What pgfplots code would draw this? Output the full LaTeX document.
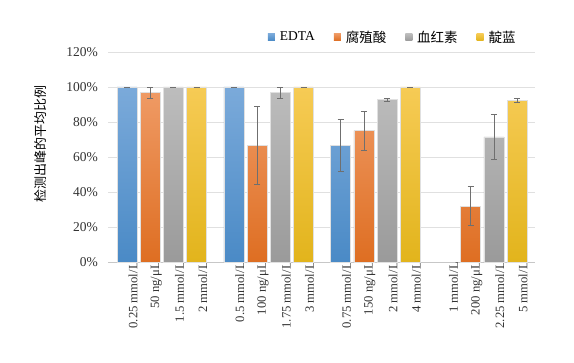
\documentclass[border=0pt]{standalone}
\usepackage{pgfplots}
\pgfplotsset{compat=1.18}
\usepackage{pgfplotstable}
\usepackage{fontspec}
\setmainfont{Liberation Serif}
\newfontfamily\cjk{Noto Sans CJK SC}
\definecolor{bT}{HTML}{7BAADA}\definecolor{bM}{HTML}{5B9BD5}\definecolor{bB}{HTML}{4A8AC6}
\definecolor{oT}{HTML}{EF9A64}\definecolor{oM}{HTML}{ED7D31}\definecolor{oB}{HTML}{DE6E22}
\definecolor{gT}{HTML}{BDBDBD}\definecolor{gM}{HTML}{A8A8A8}\definecolor{gB}{HTML}{9A9A9A}
\definecolor{yT}{HTML}{F6CB55}\definecolor{yM}{HTML}{F5C422}\definecolor{yB}{HTML}{E2B41C}
\definecolor{errc}{HTML}{6F6F6F}
\pgfplotstableread{
x y e
0 100 0
4.6 100 0
9.2 66.7 15
}\edta
\pgfplotstableread{
x y e
1 96.7 3.3
5.6 66.7 22.5
10.2 75 11
14.8 32 11
}\fuzhi
\pgfplotstableread{
x y e
2 100 0
6.6 96.7 3
11.2 92.7 1
15.8 71.5 12.7
}\xuehong
\pgfplotstableread{
x y e
3 100 0
7.6 100 0
12.2 100 0
16.8 92.5 1.3
}\dianlan
\begin{document}
\begin{tikzpicture}
\path[use as bounding box] (-108bp,-101bp) rectangle (466bp,262bp);
\begin{axis}[
  at={(0,0)}, anchor=south west,
  scale only axis, width=427bp, height=210bp,
  ybar, bar width=0.86, bar shift=0pt,
  legend image code/.code={\path[#1,draw=none] (0bp,-3.5bp) rectangle (7bp,3.5bp);},
  xmin=-0.82, xmax=17.57, ymin=0, ymax=120,
  xtick={0,1,2,3,4.6,5.6,6.6,7.6,9.2,10.2,11.2,12.2,13.8,14.8,15.8,16.8},
  xticklabels={0.25 mmol/L,50 ng/μL,1.5 mmol/L,2 mmol/L,0.5 mmol/L,100 ng/μL,1.75 mmol/L,3 mmol/L,0.75 mmol/L,150 ng/μL,2 mmol/L,4 mmol/L,1 mmol/L,200 ng/μL,2.25 mmol/L,5 mmol/L},
  ytick={0,20,40,60,80,100,120},
  yticklabels={0\%,20\%,40\%,60\%,80\%,100\%,120\%},
  x tick label style={rotate=90, anchor=east, inner sep=0pt, xshift=0bp, yshift=-6bp, font=\fontsize{12.7bp}{14bp}\selectfont, text=black!80},
  y tick label style={anchor=east, inner sep=0pt, xshift=-10bp, font=\fontsize{13.5bp}{15bp}\selectfont, text=black!80},
  major tick length=0pt,
  axis x line*=bottom, axis y line*=left,
  x axis line style={draw=black!22, line width=0.8bp},
  y axis line style={draw=none},
  ymajorgrids, grid style={draw=black!12, line width=0.7bp},
  ylabel={\cjk 检测出峰的平均比例},
  ylabel style={at={(axis description cs:-0.159,0.562)}, anchor=center, font=\fontsize{13bp}{15bp}\selectfont},
  legend columns=4,
  legend style={draw=none, fill=none, at={(axis description cs:0.96,1.071)}, anchor=east,
    font=\fontsize{13.5bp}{15bp}\selectfont, inner sep=0pt,
    /tikz/every odd column/.append style={column sep=3bp},
    /tikz/every even column/.append style={column sep=17bp}},
  error bars/y dir=both, error bars/y explicit,
  error bars/error bar style={draw=errc, line width=0.6bp},
  error bars/error mark options={rotate=90, mark size=3bp, draw=errc, line width=0.6bp},
]
\addplot[top color=bT, middle color=bM, bottom color=bB, draw=black!12, line width=0.6bp] table[x=x, y=y, y error=e] {\edta};
\addlegendentry{EDTA}
\addplot[top color=oT, middle color=oM, bottom color=oB, draw=black!12, line width=0.6bp] table[x=x, y=y, y error=e] {\fuzhi};
\addlegendentry{\cjk 腐殖酸}
\addplot[top color=gT, middle color=gM, bottom color=gB, draw=black!12, line width=0.6bp] table[x=x, y=y, y error=e] {\xuehong};
\addlegendentry{\cjk 血红素}
\addplot[top color=yT, middle color=yM, bottom color=yB, draw=black!12, line width=0.6bp] table[x=x, y=y, y error=e] {\dianlan};
\addlegendentry{\cjk 靛蓝}
\end{axis}
\end{tikzpicture}
\end{document}
